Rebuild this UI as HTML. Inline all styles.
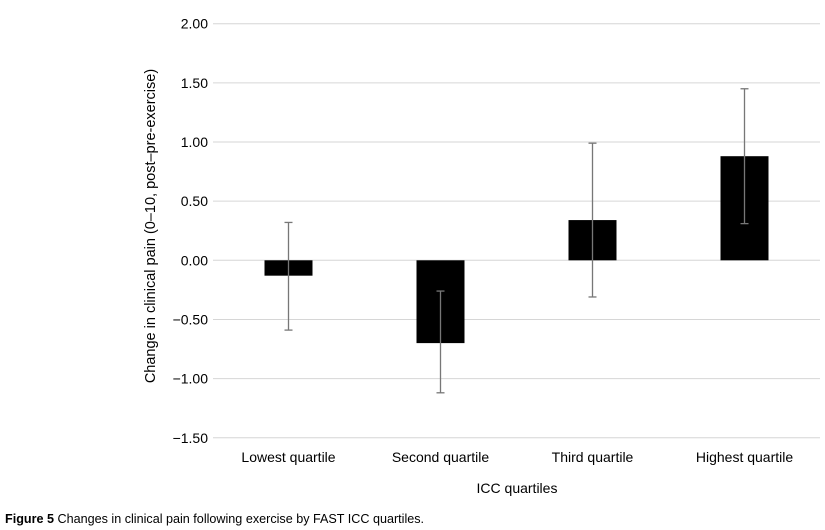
<!DOCTYPE html>
<html><head><meta charset="utf-8"><style>
body{margin:0;background:#fff;width:825px;height:530px;overflow:hidden;font-family:"Liberation Sans",Arial,sans-serif;}
</style></head><body>
<svg width="825" height="530" id="chart" style="position:absolute;left:0;top:0"></svg>
<script>
const categories=["Lowest quartile","Second quartile","Third quartile","Highest quartile"];
const means=[-0.13,-0.70,0.34,0.88];
const errLow=[-0.59,-1.12,-0.31,0.31];
const errHigh=[0.32,-0.26,0.99,1.45];
const ticks=[2.00,1.50,1.00,0.50,0.00,-0.50,-1.00,-1.50];
const tickLabels=["2.00","1.50","1.00","0.50","0.00","\u22120.50","\u22121.00","\u22121.50"];
const NS="http://www.w3.org/2000/svg";
const svg=document.getElementById('chart');
const L=213,R=820,Y0=260.3,PX=118.3;
const y=v=>Y0-v*PX;
const band=(R-L+1)/4;
const x=i=>L+band*(i+0.5)-0.5;
function mk(t,a,p){const e=document.createElementNS(NS,t);for(const k in a)e.setAttribute(k,a[k]);(p||svg).appendChild(e);return e;}
ticks.forEach((t,i)=>{
 const g=mk('line',{x1:L,x2:R,y1:y(t),y2:y(t),stroke:'#d6d6d6','stroke-width':1});
 
 
 const tx=mk('text',{x:208,y:y(t)+5,'text-anchor':'end','font-size':14,fill:'#000'});
 tx.textContent=tickLabels[i];
 
 
});
categories.forEach((c,i)=>{
 const v=means[i];
 const b=mk('rect',{x:x(i)-24,y:Math.min(y(v),y(0)),width:48,height:Math.abs(y(v)-y(0)),fill:'#000'});
 
 
 const eg=mk('g',{stroke:'#777','stroke-width':1.3});
 
 
 mk('line',{x1:x(i),x2:x(i),y1:y(errHigh[i]),y2:y(errLow[i])},eg);
 mk('line',{x1:x(i)-4,x2:x(i)+4,y1:y(errHigh[i]),y2:y(errHigh[i])},eg);
 mk('line',{x1:x(i)-4,x2:x(i)+4,y1:y(errLow[i]),y2:y(errLow[i])},eg);
 const t=mk('text',{x:x(i),y:462,'text-anchor':'middle','font-size':14,fill:'#000'});
 t.textContent=c;
 
 
});
const xt=mk('text',{x:517,y:493,'text-anchor':'middle','font-size':14,fill:'#000'});
xt.textContent="ICC quartiles";


const yt=mk('text',{x:0,y:0,'text-anchor':'middle','font-size':14.5,fill:'#000',transform:'translate(155,226) rotate(-90)'});
yt.textContent="Change in clinical pain (0\u201310, post\u2013pre-exercise)";


const cap=mk('text',{x:5,y:523,'font-size':12.6,fill:'#000'});


const b1=mk('tspan',{'font-weight':'bold'},cap);b1.textContent="Figure 5";
const b2=mk('tspan',{},cap);b2.textContent=" Changes in clinical pain following exercise by FAST ICC quartiles.";
</script>
</body></html>
